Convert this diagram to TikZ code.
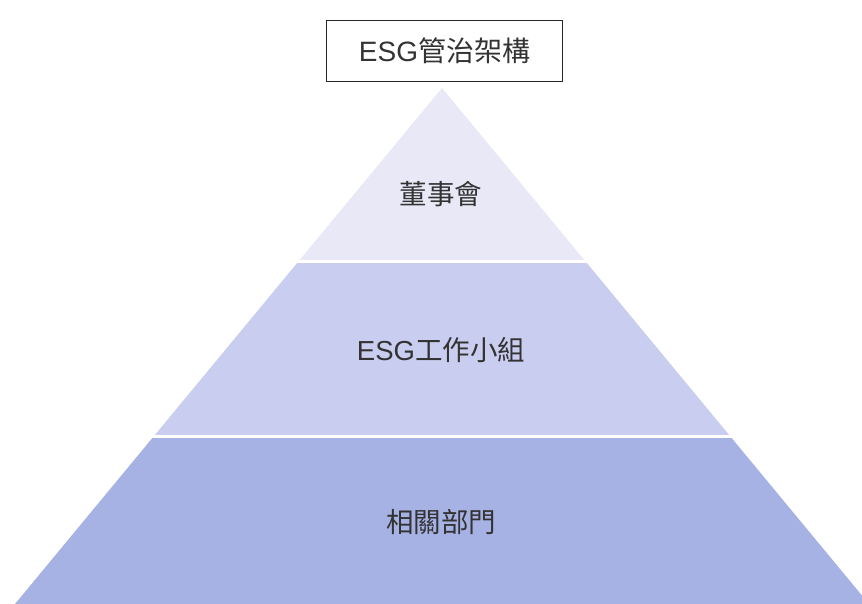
\documentclass[tikz,border=0pt]{standalone}
\usepackage{fontspec}
\setmainfont{Noto Sans CJK TC}
\newfontfamily\latinfont{Liberation Sans}
\newcommand{\lat}[1]{{\latinfont #1}}
\begin{document}
\begin{tikzpicture}[x=1pt,y=-1pt,
  lbl/.style={font=\fontsize{27.5}{30}\selectfont, text=black!80, inner sep=0pt},
  titlebox/.style={draw=black!85, line width=1.9pt, minimum width=236pt, minimum height=61pt, inner sep=0pt, font=\fontsize{28}{30}\selectfont, text=black!80}]
\definecolor{topc}{RGB}{232,232,247}
\definecolor{midc}{RGB}{201,205,239}
\definecolor{botc}{RGB}{167,178,228}
\useasboundingbox (0,0) rectangle (862,604);
\clip (0,0) rectangle (862,604);
\node[titlebox] (title) at (444.5,51) {\lat{ESG}管治架構};
\begin{scope}
  \clip (442,88) -- (15,604) -- (869,604) -- cycle;
  \fill[topc] (0,88) rectangle (862,259.5);
  \fill[midc] (0,262.5) rectangle (862,434.5);
  \fill[botc] (0,437.5) rectangle (862,604);
\end{scope}
\node[lbl] (board) at (441,194) {董事會};
\node[lbl] (group) at (441,350) {\lat{ESG}工作小組};
\node[lbl] (dept) at (441,522) {相關部門};
\end{tikzpicture}
\end{document}
